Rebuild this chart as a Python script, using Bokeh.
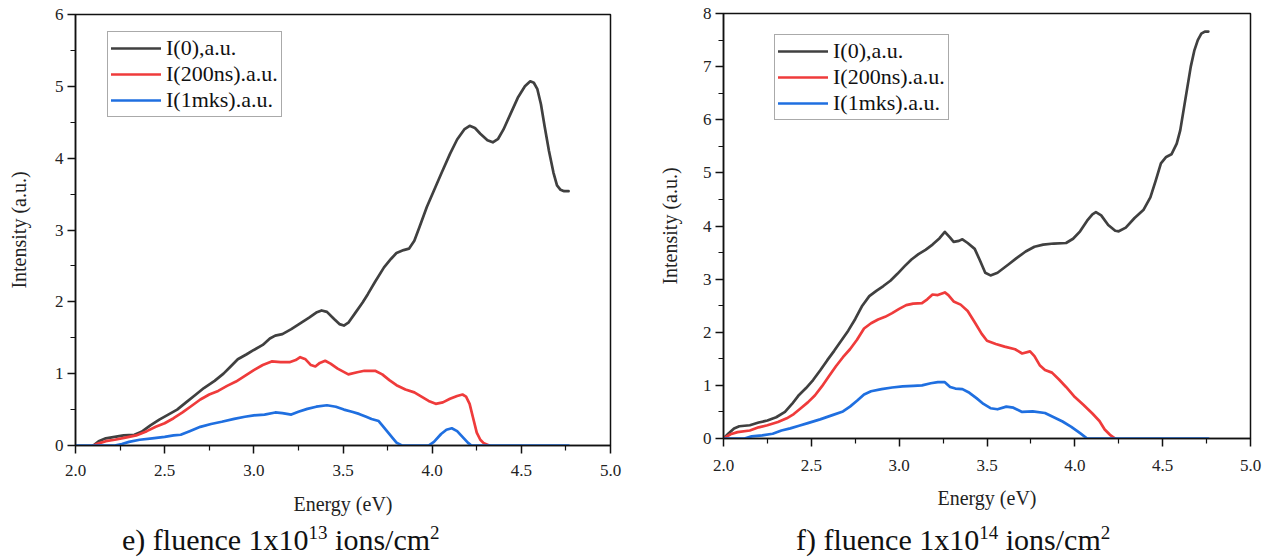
from bokeh.plotting import figure
from bokeh.models import Range1d, Legend, LegendItem, NumeralTickFormatter, FixedTicker, Div
from bokeh.layouts import row, column
from bokeh.embed import file_html
from bokeh.resources import INLINE

# ---------------- data: panel e) fluence 1x10^13 ----------------
e_black_E = [2.10, 2.13, 2.17, 2.22, 2.27, 2.33, 2.37, 2.42, 2.47, 2.52, 2.57, 2.62, 2.67, 2.72, 2.78,
             2.83, 2.87, 2.91, 2.96, 3.00, 3.05, 3.09, 3.12, 3.16, 3.21, 3.26, 3.31, 3.35, 3.38, 3.41,
             3.45, 3.48, 3.505, 3.53, 3.57, 3.61, 3.64, 3.68, 3.73, 3.77, 3.80, 3.84, 3.87, 3.90, 3.93,
             3.97, 4.01, 4.05, 4.10, 4.14, 4.18, 4.21, 4.24, 4.27, 4.31, 4.34, 4.37, 4.40, 4.44, 4.48,
             4.52, 4.55, 4.57, 4.59, 4.61, 4.63, 4.655, 4.68, 4.70, 4.72, 4.74, 4.765]
e_black_I = [0.00, 0.06, 0.10, 0.12, 0.14, 0.15, 0.19, 0.28, 0.36, 0.43, 0.50, 0.60, 0.70, 0.80, 0.90,
             1.00, 1.10, 1.20, 1.27, 1.33, 1.40, 1.49, 1.53, 1.55, 1.62, 1.70, 1.78, 1.85, 1.88, 1.86,
             1.76, 1.69, 1.67, 1.71, 1.85, 1.99, 2.11, 2.28, 2.48, 2.60, 2.68, 2.72, 2.74, 2.85, 3.05,
             3.32, 3.55, 3.78, 4.06, 4.26, 4.40, 4.45, 4.42, 4.34, 4.25, 4.22, 4.27, 4.40, 4.62, 4.84,
             5.00, 5.07, 5.05, 4.96, 4.75, 4.45, 4.10, 3.80, 3.62, 3.56, 3.54, 3.54]

e_red_E = [2.10, 2.13, 2.17, 2.22, 2.28, 2.34, 2.40, 2.45, 2.50, 2.55, 2.60, 2.65, 2.70, 2.75, 2.80,
           2.85, 2.90, 2.95, 3.00, 3.05, 3.10, 3.15, 3.20, 3.235, 3.26, 3.29, 3.32, 3.345, 3.37, 3.40,
           3.43, 3.47, 3.53, 3.58, 3.62, 3.68, 3.72, 3.76, 3.80, 3.85, 3.90, 3.94, 3.98, 4.02, 4.06,
           4.10, 4.14, 4.17, 4.19, 4.21, 4.23, 4.25, 4.27, 4.29, 4.32]
e_red_I = [0.00, 0.03, 0.06, 0.08, 0.11, 0.14, 0.20, 0.26, 0.31, 0.38, 0.46, 0.55, 0.64, 0.71, 0.76,
           0.83, 0.89, 0.97, 1.05, 1.12, 1.17, 1.16, 1.16, 1.19, 1.23, 1.20, 1.12, 1.10, 1.15, 1.18,
           1.14, 1.07, 0.99, 1.02, 1.04, 1.04, 0.99, 0.91, 0.84, 0.78, 0.74, 0.68, 0.62, 0.58, 0.60,
           0.65, 0.69, 0.71, 0.68, 0.58, 0.38, 0.18, 0.08, 0.03, 0.00]

e_blue_E = [2.00, 2.22, 2.26, 2.30, 2.36, 2.43, 2.50, 2.55, 2.59, 2.64, 2.70, 2.76, 2.82, 2.89, 2.95,
            3.00, 3.06, 3.12, 3.16, 3.21, 3.25, 3.30, 3.35, 3.41, 3.46, 3.505, 3.55, 3.59, 3.63, 3.66,
            3.70, 3.72, 3.75, 3.78, 3.80, 3.83, 3.98, 4.01, 4.05, 4.08, 4.11, 4.14, 4.17, 4.20, 4.22,
            4.765]
e_blue_I = [0.00, 0.00, 0.02, 0.05, 0.08, 0.10, 0.12, 0.14, 0.15, 0.20, 0.26, 0.30, 0.33, 0.37, 0.40,
            0.42, 0.43, 0.46, 0.45, 0.43, 0.47, 0.51, 0.54, 0.56, 0.54, 0.50, 0.47, 0.44, 0.40, 0.37,
            0.34, 0.28, 0.19, 0.10, 0.04, 0.00, 0.00, 0.05, 0.16, 0.22, 0.24, 0.20, 0.12, 0.04, 0.00,
            0.00]

# ---------------- data: panel f) fluence 1x10^14 ----------------
f_black_E = [2.00, 2.03, 2.06, 2.09, 2.15, 2.20, 2.25, 2.30, 2.35, 2.39, 2.43, 2.47, 2.51, 2.55, 2.59,
             2.63, 2.67, 2.71, 2.75, 2.79, 2.83, 2.87, 2.91, 2.95, 2.99, 3.03, 3.07, 3.11, 3.15, 3.19,
             3.23, 3.26, 3.29, 3.31, 3.34, 3.36, 3.39, 3.43, 3.46, 3.49, 3.52, 3.56, 3.62, 3.67, 3.72,
             3.77, 3.82, 3.88, 3.95, 3.99, 4.03, 4.07, 4.10, 4.12, 4.15, 4.19, 4.23, 4.25, 4.29, 4.34,
             4.39, 4.43, 4.46, 4.49, 4.52, 4.55, 4.58, 4.60, 4.62, 4.64, 4.66, 4.68, 4.70, 4.72, 4.74,
             4.76]
f_black_I = [0.00, 0.10, 0.19, 0.23, 0.25, 0.30, 0.34, 0.40, 0.50, 0.65, 0.82, 0.95, 1.10, 1.28, 1.47,
             1.65, 1.84, 2.03, 2.25, 2.50, 2.68, 2.78, 2.87, 2.97, 3.10, 3.24, 3.37, 3.47, 3.55, 3.65,
             3.77, 3.89, 3.78, 3.70, 3.72, 3.75, 3.68, 3.57, 3.35, 3.12, 3.07, 3.12, 3.27, 3.40, 3.52,
             3.61, 3.65, 3.67, 3.68, 3.76, 3.90, 4.10, 4.22, 4.26, 4.20, 4.02, 3.91, 3.90, 3.97, 4.15,
             4.30, 4.54, 4.85, 5.18, 5.30, 5.35, 5.55, 5.80, 6.20, 6.60, 7.00, 7.30, 7.50, 7.62, 7.66,
             7.66]

f_red_E = [2.00, 2.04, 2.08, 2.15, 2.20, 2.25, 2.31, 2.36, 2.40, 2.44, 2.48, 2.52, 2.56, 2.60, 2.64,
           2.68, 2.72, 2.76, 2.80, 2.84, 2.88, 2.92, 2.96, 3.00, 3.04, 3.08, 3.13, 3.16, 3.19, 3.22,
           3.26, 3.28, 3.31, 3.35, 3.39, 3.43, 3.47, 3.50, 3.55, 3.60, 3.66, 3.70, 3.745, 3.77, 3.80,
           3.83, 3.87, 3.91, 3.95, 4.00, 4.05, 4.10, 4.14, 4.17, 4.20, 4.23]
f_red_I = [0.00, 0.08, 0.12, 0.15, 0.21, 0.25, 0.31, 0.38, 0.46, 0.57, 0.68, 0.81, 0.98, 1.17, 1.36,
           1.53, 1.68, 1.86, 2.07, 2.17, 2.24, 2.29, 2.36, 2.44, 2.51, 2.54, 2.55, 2.62, 2.71, 2.70,
           2.75, 2.70, 2.58, 2.52, 2.40, 2.19, 1.97, 1.84, 1.78, 1.73, 1.68, 1.60, 1.64, 1.55, 1.38,
           1.29, 1.24, 1.11, 0.97, 0.78, 0.63, 0.47, 0.33, 0.17, 0.07, 0.00]

f_blue_E = [2.00, 2.12, 2.16, 2.22, 2.28, 2.33, 2.38, 2.43, 2.48, 2.55, 2.62, 2.68, 2.72, 2.76, 2.80,
            2.84, 2.90, 2.96, 3.02, 3.08, 3.13, 3.18, 3.22, 3.26, 3.29, 3.32, 3.36, 3.40, 3.44, 3.48,
            3.52, 3.56, 3.61, 3.65, 3.70, 3.76, 3.83, 3.88, 3.93, 3.98, 4.03, 4.07, 4.76]
f_blue_I = [0.00, 0.00, 0.04, 0.06, 0.09, 0.15, 0.19, 0.24, 0.29, 0.36, 0.44, 0.51, 0.60, 0.71, 0.83,
            0.89, 0.93, 0.96, 0.98, 0.99, 1.00, 1.04, 1.06, 1.06, 0.97, 0.94, 0.93, 0.86, 0.76, 0.65,
            0.57, 0.55, 0.60, 0.58, 0.50, 0.51, 0.48, 0.40, 0.32, 0.22, 0.10, 0.00, 0.00]

series_labels = ["I(0),a.u.", "I(200ns).a.u.", "I(1mks).a.u."]
x_ticks = [2.0, 2.5, 3.0, 3.5, 4.0, 4.5, 5.0]
e_y_ticks = [0, 1, 2, 3, 4, 5, 6]
f_y_ticks = [0, 1, 2, 3, 4, 5, 6, 7, 8]
x_label = "Energy (eV)"
y_label = "Intensity (a.u.)"
e_caption = ("e) fluence 1x10", "13", " ions/cm", "2")
f_caption = ("f) fluence 1x10", "14", " ions/cm", "2")

FONT = "Liberation Serif"
COLORS = ["#404040", "#ef3b3b", "#1f6fe0"]


def make_panel(width, height, borders, ymax, yticks, series, legend_xy, xls, yls, xstand):
    left, right, top, bottom = borders
    p = figure(width=width, height=height, output_backend="svg", toolbar_location=None,
               x_range=Range1d(2.0, 5.0), y_range=Range1d(0, ymax),
               min_border_left=left, min_border_right=right,
               min_border_top=top, min_border_bottom=bottom)
    p.grid.visible = False
    p.outline_line_color = "#111111"
    p.outline_line_width = 1.5
    p.outline_line_alpha = 1.0
    p.background_fill_color = "white"
    p.border_fill_color = "white"

    for ax in (p.xaxis[0], p.yaxis[0]):
        ax.axis_line_color = "#111111"
        ax.axis_line_width = 1.5
        ax.major_tick_line_color = "#111111"
        ax.major_tick_line_width = 1.5
        ax.minor_tick_line_color = "#111111"
        ax.minor_tick_line_width = 1.2
        ax.major_tick_in = 0
        ax.major_tick_out = 8
        ax.minor_tick_in = 0
        ax.minor_tick_out = 5
        ax.major_label_text_font = FONT
        ax.major_label_text_font_size = "17px"
        ax.major_label_text_color = "#222222"
        ax.axis_label_text_font = FONT
        ax.axis_label_text_font_size = "20px"
        ax.axis_label_text_font_style = "normal"
        ax.axis_label_text_color = "#222222"

    minor_x = [2.25 + 0.5 * i for i in range(6)]
    p.xaxis[0].ticker = FixedTicker(ticks=x_ticks, minor_ticks=minor_x)
    p.xaxis[0].formatter = NumeralTickFormatter(format="0.0")
    p.xaxis[0].major_label_standoff = xstand
    p.xaxis[0].axis_label = x_label
    p.xaxis[0].axis_label_standoff = xls

    minor_y = [0.5 + i for i in range(len(yticks) - 1)]
    p.yaxis[0].ticker = FixedTicker(ticks=yticks, minor_ticks=minor_y)
    p.yaxis[0].major_label_standoff = 4
    p.yaxis[0].axis_label = y_label
    p.yaxis[0].axis_label_standoff = yls

    items = []
    for (E, I), col, lab in zip(series, COLORS, series_labels):
        r = p.line(E, I, line_color=col, line_width=2.7, line_join="round", line_cap="round")
        items.append(LegendItem(label=lab, renderers=[r]))

    leg = Legend(items=items, location=legend_xy)
    leg.label_text_font = FONT
    leg.label_text_font_size = "22px"
    leg.label_text_color = "#111111"
    leg.glyph_width = 50
    leg.glyph_height = 26
    leg.label_height = 26
    leg.label_standoff = 5
    leg.spacing = 0
    leg.padding = 3
    leg.margin = 0
    leg.border_line_color = "#555555"
    leg.border_line_width = 1
    leg.background_fill_color = "white"
    leg.background_fill_alpha = 1.0
    p.add_layout(leg)
    return p


def make_caption(parts, width, height, left_pad):
    main, exp1, mid, exp2 = parts
    sup = '<sup style="font-size:19px;line-height:0;vertical-align:11px">{}</sup>'
    html = ('<div style="font-family:\'Liberation Serif\',serif;font-size:30px;line-height:30px;'
            'white-space:nowrap;color:#111111;margin:5px 0 0 {}px;">{}{}{}{}</div>').format(
        left_pad, main, sup.format(exp1), mid, sup.format(exp2))
    return Div(text=html, width=width, height=height, margin=0)


PH = 520
p1 = make_panel(648, PH, (75, 38, 14, PH - 445), 6, e_y_ticks,
                [(e_black_E, e_black_I), (e_red_E, e_red_I), (e_blue_E, e_blue_I)],
                (32, 328), 14, 22, 11)
p2 = make_panel(624, PH, (75, 22, 13, PH - 438), 8, f_y_ticks,
                [(f_black_E, f_black_I), (f_red_E, f_red_I), (f_blue_E, f_blue_I)],
                (51, 318), 13, 19, 13)

d1 = make_caption(e_caption, 648, 36, 122)
d2 = make_caption(f_caption, 624, 36, 148)

layout = row(column(p1, d1), column(p2, d2))
open("out.html", "w").write(file_html(layout, INLINE))
